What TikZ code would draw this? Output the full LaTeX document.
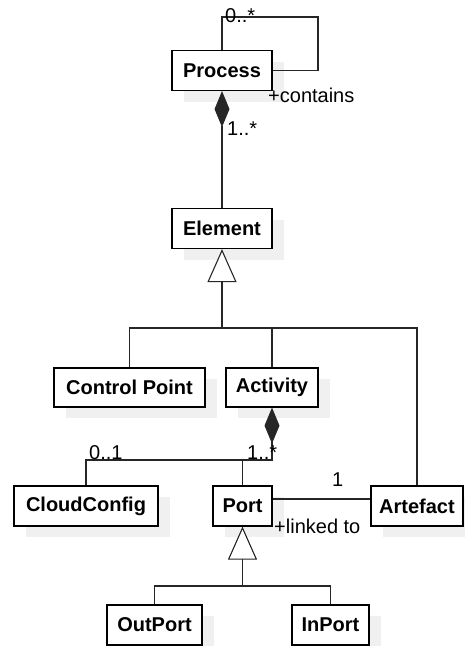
\documentclass[tikz,border=0pt]{standalone}
\usepackage{fontspec}
\setmainfont{Liberation Sans}
\usetikzlibrary{arrows.meta,shadows}
\begin{document}
\begin{tikzpicture}[x=1pt,y=-1pt,
  font=\fontsize{20}{24}\selectfont,
  cls/.style={draw=black, line width=1.2pt, fill=white, inner sep=0pt,
    minimum height=40pt, font=\fontsize{20}{24}\selectfont\bfseries,
    general shadow={fill=black!6, shadow xshift=12pt, shadow yshift=-11pt}},
  link/.style={draw=black!85, line width=1.1pt},
  gen/.style={link, -{Triangle[open, length=33pt 0, width=29pt 0, fill=white]}},
  comp/.style={link, -{Diamond[length=36pt 0, width=15pt 0]}},
  lbl/.style={inner sep=0pt, anchor=west}]
  \useasboundingbox (0,0) rectangle (464,646);

  % classes
  \node[cls, minimum width=100pt] (Process) at (222,70.5) {Process};
  \node[cls, minimum width=100pt] (Element) at (222,228.5) {Element};
  \node[cls, minimum width=151pt, minimum height=39pt] (CP) at (129.5,387.5) {Control Point};
  \node[cls, minimum width=92pt, minimum height=39pt] (Activity) at (272,387.5) {Activity};
  \node[cls, minimum width=144pt] (Cloud) at (86,506) {CloudConfig};
  \node[cls, minimum width=59pt] (Port) at (242.5,506) {Port};
  \node[cls, minimum width=92pt] (Artefact) at (417,506) {Artefact};
  \node[cls, minimum width=95pt] (OutPort) at (154.5,625) {OutPort};
  \node[cls, minimum width=77pt] (InPort) at (330.5,625) {InPort};

  % junction points
  \coordinate (loop) at (318,17);
  \coordinate (jE) at (222,328);
  \coordinate (jA) at (272,460);
  \coordinate (jP) at (242.5,586);

  % Process contains Process
  \draw[link] (Process.north) |- (loop) |- (Process.east);
  \node[lbl] (m1) at (225,16) {0..*};
  \node[lbl] (r1) at (268,95) {+contains};

  % Process is composed of Elements
  \draw[comp] (Element.north) -- (Process.south);
  \node[lbl] (m2) at (227,129) {1..*};

  % Element specialisations
  \draw[gen] (jE) -- (Element.south);
  \draw[link] (CP.north) |- (jE) -| (Artefact.north);
  \draw[link] (Activity.north) -- (Activity.north |- jE);

  % Activity owns Ports and a CloudConfig
  \draw[comp] (Port.north) |- (jA) -- (Activity.south);
  \draw[link] (Cloud.north) |- (jA);
  \node[lbl] (m3) at (89,453) {0..1};
  \node[lbl] (m4) at (247,453) {1..*};

  % Port linked to Artefact
  \draw[link] ([yshift=7pt]Port.east) -- ([yshift=7pt]Artefact.west);
  \node[lbl] (m5) at (332,480) {1};
  \node[lbl] (r2) at (274,526) {+linked to};

  % Port specialisations
  \draw[gen] (jP) -- (Port.south);
  \draw[link] (OutPort.north) |- (jP) -| (InPort.north);
\end{tikzpicture}
\end{document}
